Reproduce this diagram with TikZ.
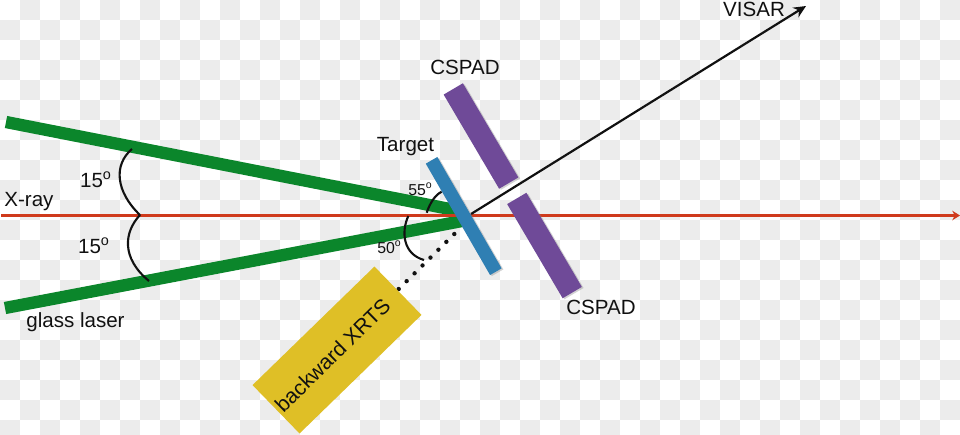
\documentclass[tikz,border=0pt]{standalone}
\usepackage{fontspec}
\setmainfont{Liberation Sans}
\usetikzlibrary{arrows.meta,shadows}
\definecolor{checker}{HTML}{ECECEC}
\definecolor{beamgreen}{HTML}{0B862B}
\definecolor{xrayred}{HTML}{CF3A1C}
\definecolor{targetblue}{HTML}{2F7FB3}
\definecolor{cspadpurple}{HTML}{6F4A98}
\definecolor{xrtsyellow}{HTML}{DFBF26}
\definecolor{ink}{HTML}{111111}
\tikzset{
  beam/.style={draw=beamgreen,line width=7pt},
  plate/.style={draw=none,inner sep=0pt,drop shadow={shadow xshift=1pt,shadow yshift=-0.6pt,opacity=0.35}},
  cspad/.style={plate,fill=cspadpurple,minimum width=62.2pt,minimum height=12.7pt,rotate=-59.5},
  anglearc/.style={draw=ink,line width=1.2pt},
  label/.style={inner sep=0pt,text=ink,font=\fontsize{11.7}{13}\selectfont},
  smalllabel/.style={inner sep=0pt,text=ink,font=\fontsize{9}{11}\selectfont}
}
\begin{document}
\begin{tikzpicture}[x=0.02cm,y=-0.02cm]
  \useasboundingbox (0,0) rectangle (960,434);
  \begin{scope}
    \clip (0,0) rectangle (960,434);
    \foreach \col in {0,...,47} {
      \foreach \row in {0,...,21} {
        \ifodd\numexpr\col+\row\relax
          \fill[checker] (\col*20,\row*20) rectangle (\col*20+20,\row*20+20);
        \fi
      }
    }
  \end{scope}

  \coordinate (beamup) at (6,122);
  \coordinate (beamdown) at (5,308);
  \coordinate (tipup) at (460,211);
  \coordinate (tipdown) at (462,221);
  \coordinate (xraystart) at (1,215.5);
  \coordinate (xrayend) at (960,215.5);
  \coordinate (visarstart) at (471,214);
  \coordinate (visarend) at (806,6);
  \coordinate (apex) at (140,215);
  \coordinate (dotstart) at (454.3,234);
  \coordinate (dotend) at (390.3,297.3);

  \draw[beam] (beamup) -- (tipup);
  \draw[beam] (beamdown) -- (tipdown);
  \draw[xrayred,line width=1.4pt,-{Stealth[length=4.4pt,width=5.4pt]}] (xraystart) -- (xrayend);
  \draw[ink,line width=1.25pt,-{Stealth[length=7pt,width=6.4pt]}] (visarstart) -- (visarend);

  % angle marks
  \coordinate (arcup) at (132,149);
  \coordinate (arcdown) at (149,281);
  \draw[anglearc] (arcup) .. controls (113,165) and (116,192) .. (apex);
  \draw[anglearc] (apex) .. controls (124,232) and (121,258) .. (arcdown);
  \coordinate (arcfiveA) at (441.7,191.7);
  \coordinate (arcfiveB) at (426.7,212.7);
  \draw[anglearc] (arcfiveA) .. controls (435,195) and (430,203) .. (arcfiveB);
  \coordinate (arcfiftyA) at (408.3,216);
  \coordinate (arcfiftyB) at (424,260);
  \draw[anglearc] (arcfiftyA) .. controls (401,232) and (403,254) .. (arcfiftyB);

  \draw[ink,line width=2.5pt,line cap=round,dash pattern=on 0pt off 6.36pt] (dotstart) -- (dotend);

  \node[plate,fill=targetblue,minimum width=73.2pt,minimum height=7.6pt,rotate=-60] (target) at (463.7,216) {};
  \node[cspad] (cspadup) at (481,136) {};
  \node[cspad] (cspaddown) at (544.5,245.5) {};
  \node[fill=xrtsyellow,inner sep=0pt,minimum width=96.8pt,minimum height=38.4pt,rotate=44.2] (xrts) at (337,350) {};

  \node[label,font=\fontsize{12}{14}\selectfont,rotate=44.5] (xrtslabel) at (332.5,355) {backward XRTS};
  \node[label,anchor=west] (xraylabel) at (4,202) {X-ray};
  \node[label,anchor=west] (glasslabel) at (26,322) {glass laser};
  \node[label] (anglea) at (96,180) {15\textsuperscript{o}};
  \node[label] (angleb) at (94,246) {15\textsuperscript{o}};
  \node[smalllabel] (anglec) at (420.5,189) {55\textsuperscript{o}};
  \node[smalllabel] (angled) at (389.5,247) {50\textsuperscript{o}};
  \node[label] (targetlabel) at (405.5,147) {Target};
  \node[label] (cspadlabelup) at (465,67) {CSPAD};
  \node[label] (cspadlabeldown) at (601,307) {CSPAD};
  \node[label] (visarlabel) at (754,9) {VISAR};
\end{tikzpicture}
\end{document}
